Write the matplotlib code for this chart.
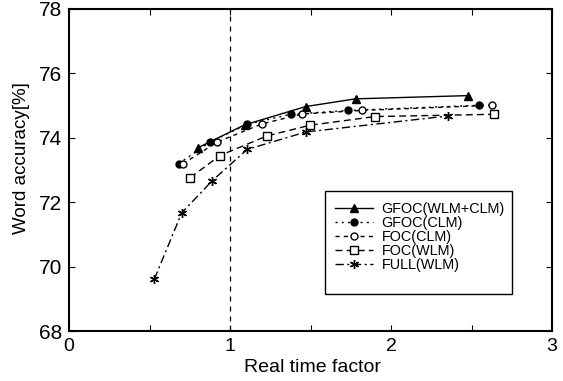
import matplotlib
matplotlib.use("Agg")
import matplotlib.pyplot as plt
from matplotlib.patches import Rectangle

plt.rcParams['font.family'] = ['Liberation Sans', 'DejaVu Sans']

# Data
gfoc_wc_x = [0.80, 1.09, 1.47, 1.78, 2.48]
gfoc_wc_y = [73.69, 74.40, 74.97, 75.21, 75.31]
gfoc_clm_x = [0.68, 0.876, 1.107, 1.376, 1.735, 2.547]
gfoc_clm_y = [73.19, 73.87, 74.42, 74.73, 74.85, 75.01]
foc_clm_x = [0.706, 0.921, 1.197, 1.449, 1.818, 2.625]
foc_clm_y = [73.19, 73.87, 74.43, 74.74, 74.85, 75.01]
foc_wlm_x = [0.752, 0.938, 1.23, 1.497, 1.90, 2.642]
foc_wlm_y = [72.76, 73.45, 74.06, 74.39, 74.66, 74.73]
full_x = [0.53, 0.70, 0.89, 1.107, 1.47, 2.356]
full_y = [69.61, 71.67, 72.67, 73.64, 74.18, 74.68]

labels = ["GFOC(WLM+CLM)", "GFOC(CLM)", "FOC(CLM)", "FOC(WLM)", "FULL(WLM)"]
xticks = [0, 0.5, 1, 1.5, 2, 2.5, 3]
xticklabels = ['0', '', '1', '', '2', '', '3']
yticks = [68, 70, 72, 74, 76, 78]

fig = plt.figure(figsize=(5.63, 3.81), dpi=100)
ax = fig.add_axes([0.1226, 0.1312, 0.8579, 0.8452])

ax.axvline(1, color='black', linestyle=(0, (4, 4)), linewidth=0.9)

ax.plot(gfoc_wc_x, gfoc_wc_y, color='black', linestyle='-', linewidth=1.0,
        marker='^', markersize=5.5, markerfacecolor='black', label=labels[0])
ax.plot(gfoc_clm_x, gfoc_clm_y, color='black', linestyle=(0, (1.5, 3)), linewidth=1.0,
        marker='o', markersize=5, markerfacecolor='black', label=labels[1])
ax.plot(foc_clm_x, foc_clm_y, color='black', linestyle=(0, (3, 3)), linewidth=1.0,
        marker='o', markersize=5, markerfacecolor='white', label=labels[2])
ax.plot(foc_wlm_x, foc_wlm_y, color='black', linestyle=(0, (5, 3)), linewidth=1.0,
        marker='s', markersize=5.5, markerfacecolor='white', label=labels[3])
ax.plot(full_x, full_y, color='black', linestyle=(0, (6, 2.5, 1.5, 2.5)), linewidth=1.0,
        marker=(6, 2, 0), markersize=6.5, markeredgewidth=1.0, label=labels[4])

ax.set_xlim(0, 3)
ax.set_ylim(68, 78)
ax.set_xticks(xticks)
ax.set_xticklabels(xticklabels)
ax.set_yticks(yticks)
ax.tick_params(direction='in', top=True, right=True, length=4, width=0.8)
ax.tick_params(axis='x', labelsize=14, pad=5)
ax.tick_params(axis='y', labelsize=15, pad=5)

for s in ax.spines.values():
    s.set_linewidth(1.5)

ax.set_xlabel("Real time factor", fontsize=14)
ax.set_ylabel("Word accuracy[%]", fontsize=13.5)
ax.xaxis.set_label_coords(0.505, -0.088)
ax.yaxis.set_label_coords(-0.08, 0.536)

ax.add_patch(Rectangle((0.53, 0.115), 0.387, 0.32, transform=ax.transAxes,
                       facecolor='white', edgecolor='black', linewidth=1.0, zorder=4))
leg = ax.legend(loc='upper left', bbox_to_anchor=(0.551, 0.40),
                fontsize=10.4, frameon=False, borderpad=0, borderaxespad=0,
                handlelength=2.6, labelspacing=0.0, handletextpad=0.6)
leg.set_zorder(5)

fig.savefig("out.png", dpi=100)
